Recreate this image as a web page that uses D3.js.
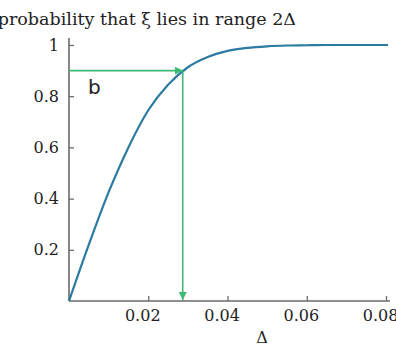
<!DOCTYPE html>
<html><head><meta charset="utf-8">
<script src="https://cdn.jsdelivr.net/npm/d3@7"></script>
<style>body{margin:0;background:#fff;} svg{display:block;}</style>
</head><body>
<svg id="c" width="396" height="345"></svg>
<script>
const deltas = [0,0.005,0.01,0.015,0.02,0.025,0.03,0.035,0.04,0.045,0.05,0.055,0.06,0.065,0.07,0.075,0.08,0.0805];
const probs  = [0,0.22,0.425,0.6,0.745,0.845,0.913,0.953,0.977,0.989,0.995,0.998,0.999,1,1,1,1,1];
const xTicks = [0.02,0.04,0.06,0.08];
const yTicks = [0.2,0.4,0.6,0.8,1];
const markerDelta = [0.0287];
const markerProb = [0.9];
const title = "probability that ξ lies in range 2Δ";
const xLabel = "Δ";
const panelLabel = "b";

const svg = d3.select("#c");
const x = d3.scaleLinear().domain([0,0.0805]).range([69,388]);
const y = d3.scaleLinear().domain([0,1]).range([301,45]);
const axisCol = "#6a6a6a", textCol = "#222", serif = "'DejaVu Serif', serif";

// axes
const xa = svg.append("g").attr("transform","translate(0,301)")
  .call(d3.axisBottom(x).tickValues(xTicks).tickSize(-5).tickPadding(9).tickFormat(d3.format(".2f")));
const ya = svg.append("g").attr("transform","translate(69,0)")
  .call(d3.axisLeft(y).tickValues(yTicks).tickSize(-5).tickPadding(10).tickFormat(d=>d===1?"1":d3.format(".1f")(d)));
xa.select(".domain").attr("d","M69,0H390");
ya.select(".domain").attr("d","M0,301V38");
[xa,ya].forEach(a=>{
  a.selectAll(".domain").attr("stroke",axisCol).attr("stroke-width",1.6);
  a.selectAll(".tick line").attr("stroke",axisCol).attr("stroke-width",1.3);
  a.selectAll(".tick text").attr("fill",textCol).attr("font-family",serif).attr("font-size",16);
});
xa.selectAll(".tick text").attr("x",-6);

// curve
svg.append("path").datum(deltas.map((d,i)=>[d,probs[i]]))
  .attr("fill","none").attr("stroke","#2b7aa1").attr("stroke-width",2.2)
  .attr("stroke-linejoin","round")
  .attr("d", d3.line().x(d=>x(d[0])).y(d=>y(d[1])).curve(d3.curveMonotoneX));

// green arrows
const green = "#3dba74";
const defs = svg.append("defs");
defs.append("marker").attr("id","ah").attr("viewBox","0 0 10 10").attr("refX",10).attr("refY",5)
  .attr("markerWidth",5).attr("markerHeight",5).attr("markerUnits","strokeWidth").attr("orient","auto")
  .append("path").attr("d","M0,0L10,5L0,10Z").attr("fill",green);
const mx = x(markerDelta[0]), my = y(markerProb[0]);
svg.append("line").attr("x1",x(0)).attr("y1",my).attr("x2",mx).attr("y2",my)
  .attr("stroke",green).attr("stroke-width",1.6).attr("marker-end","url(#ah)");
svg.append("line").attr("x1",mx).attr("y1",my).attr("x2",mx).attr("y2",y(0)-1)
  .attr("stroke",green).attr("stroke-width",1.6).attr("marker-end","url(#ah)");

// texts
svg.append("text").attr("x",296).attr("y",25).attr("text-anchor","end")
  .attr("font-family",serif).attr("font-size",17.5).attr("fill",textCol).text(title);
svg.append("text").attr("x",262).attr("y",343).attr("text-anchor","middle")
  .attr("font-family",serif).attr("font-size",16).attr("fill",textCol).text(xLabel);
svg.append("text").attr("x",88).attr("y",94)
  .attr("font-family","'DejaVu Sans', sans-serif").attr("font-size",20).attr("fill",textCol).text(panelLabel);
</script>
</body></html>
